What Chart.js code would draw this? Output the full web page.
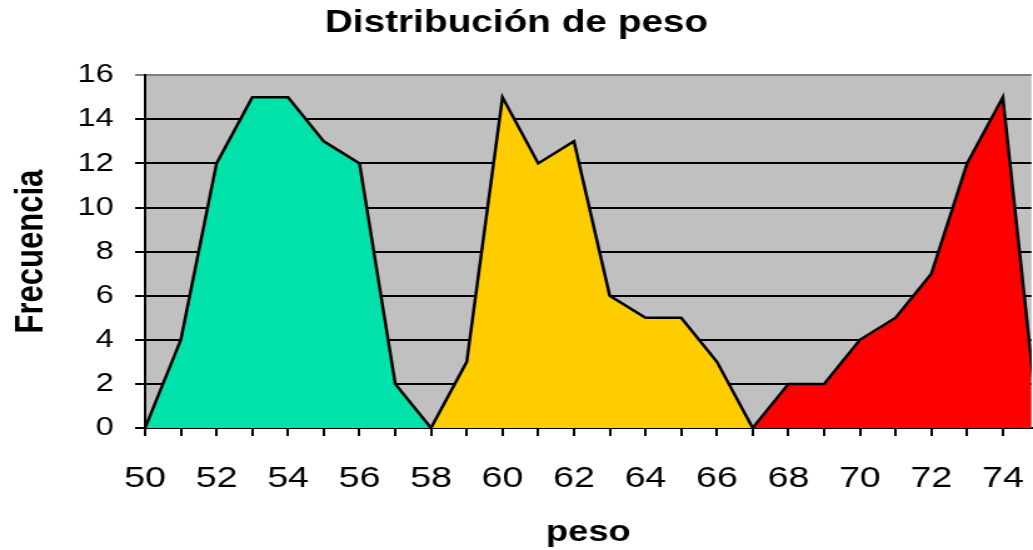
<!DOCTYPE html>
<html lang="es">
<head>
  <meta charset="UTF-8">
  <title>Distribución de peso</title>
  <script src="https://cdn.jsdelivr.net/npm/chart.js"></script>
  <style>
    body {
      margin: 0;
      background: #ffffff;
      overflow: hidden;
    }

    /* the chart is drawn narrow and stretched sideways, like the old spreadsheet export */
    .chart-box {
      width: 826px;
      height: 550px;
      transform: scaleX(1.2506);
      transform-origin: 0 0;
    }
  </style>
</head>
<body>
  <div class="chart-box">
    <canvas id="pesoChart"></canvas>
  </div>

  <script>
    const pesos = [50, 51, 52, 53, 54, 55, 56, 57, 58, 59, 60, 61, 62,
                   63, 64, 65, 66, 67, 68, 69, 70, 71, 72, 73, 74, 75];

    // frequencies per weight, one group per colour
    const grupoVerde = [0, 4, 12, 15, 15, 13, 12, 2, 0,
                        null, null, null, null, null, null, null, null, null,
                        null, null, null, null, null, null, null, null];
    const grupoAmarillo = [null, null, null, null, null, null, null, null,
                           0, 3, 15, 12, 13, 6, 5, 5, 3, 0,
                           null, null, null, null, null, null, null, null];
    const grupoRojo = [null, null, null, null, null, null, null, null, null,
                       null, null, null, null, null, null, null, null,
                       0, 2, 2, 4, 5, 7, 12, 15, 0];

    const yTicks = [0, 2, 4, 6, 8, 10, 12, 14, 16];

    function toPoints(values) {
      return pesos.map((p, i) => ({ x: p, y: values[i] }));
    }

    const plotBackground = {
      id: 'plotBackground',
      beforeDraw(chart) {
        const { ctx, chartArea } = chart;
        ctx.save();
        ctx.fillStyle = '#c0c0c0';
        ctx.fillRect(chartArea.left, chartArea.top,
                     chartArea.right - chartArea.left, chartArea.bottom - chartArea.top);
        ctx.restore();
      }
    };

    const serie = (values, color) => ({
      data: toPoints(values),
      backgroundColor: color,
      borderColor: '#000000',
      borderWidth: 2.5,
      fill: 'origin',
      tension: 0,
      pointRadius: 0,
      spanGaps: false
    });

    const ctx = document.getElementById('pesoChart').getContext('2d');

    new Chart(ctx, {
      type: 'line',
      data: {
        datasets: [
          serie(grupoVerde, '#00e2aa'),
          serie(grupoAmarillo, '#ffcc00'),
          serie(grupoRojo, '#ff0000')
        ]
      },
      options: {
        responsive: true,
        maintainAspectRatio: false,
        animation: false,
        layout: { padding: 0 },
        plugins: {
          legend: { display: false },
          tooltip: { enabled: false },
          title: {
            display: true,
            text: 'Distribución de peso',
            color: '#000000',
            font: { family: 'Arial, "Liberation Sans", sans-serif', size: 31, weight: 'bold' },
            padding: { top: 5, bottom: 33 }
          }
        },
        scales: {
          x: {
            type: 'linear',
            min: 50,
            max: 74.8,
            afterFit(scale) {
              scale.height = 122;
              // the plot runs right up to the canvas edge
              scale.paddingLeft = 0;
              scale.paddingRight = 0;
            },
            ticks: {
              stepSize: 1,
              includeBounds: false,
              autoSkip: false,
              maxRotation: 0,
              padding: 25,
              color: '#000000',
              font: { family: 'Arial, "Liberation Sans", sans-serif', size: 30 },
              callback: (v) => (v % 2 === 0 ? String(v) : '')
            },
            grid: {
              drawOnChartArea: false,
              drawTicks: true,
              tickLength: 8,
              color: '#000000',
              lineWidth: 2
            },
            border: { display: true, color: '#000000', width: 2 },
            title: {
              display: true,
              text: 'peso',
              color: '#000000',
              font: { family: 'Arial, "Liberation Sans", sans-serif', size: 29, weight: 'bold' },
              padding: { top: 0, bottom: 0 }
            }
          },
          y: {
            min: 0,
            max: 16,
            afterFit(scale) { scale.width = 116; },
            afterBuildTicks(scale) {
              scale.ticks = yTicks.map(v => ({ value: v }));
            },
            ticks: {
              padding: 17,
              color: '#000000',
              font: { family: 'Arial, "Liberation Sans", sans-serif', size: 26 }
            },
            grid: {
              drawTicks: true,
              tickLength: 8,
              lineWidth: 2,
              color: (c) => (c.tick && c.tick.value === 16 ? '#808080' : '#000000')
            },
            border: { display: true, color: '#000000', width: 2 },
            title: {
              display: true,
              text: 'Frecuencia',
              color: '#000000',
              font: { family: 'Arial, "Liberation Sans", sans-serif', size: 31, weight: 'bold' },
              padding: { top: 7, bottom: 0 }
            }
          }
        }
      },
      plugins: [plotBackground]
    });
  </script>
</body>
</html>
